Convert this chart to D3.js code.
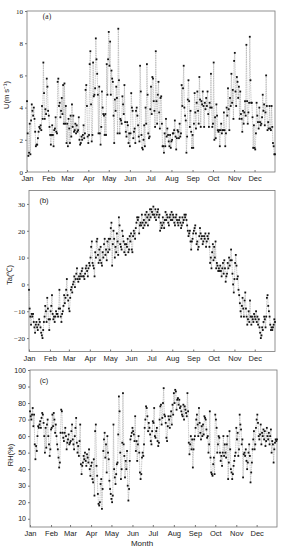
<!DOCTYPE html>
<html>
<head>
<meta charset="utf-8">
<script src="https://cdn.jsdelivr.net/npm/d3@7"></script>
<style>
  body { margin: 0; background: #fff; }
  svg text { fill: #222; }
</style>
</head>
<body>
<svg id="chart" width="287" height="550"></svg>
<script>
// month tick labels
const MONTHS = ['Jan', 'Feb', 'Mar', 'Apr', 'May', 'Jun', 'Jul', 'Aug', 'Sep', 'Oct', 'Nov', 'Dec'];

// (a) daily wind speed, m/s  (one row per month)
const WIND = [
  4.4,2.4,1.0,1.2,3.0,1.1,3.2,4.2,3.8,3.5,4.0,3.3,2.5,1.6,1.7,1.7,2.1,2.5,2.8,2.7,2.9,2.6,4.1,3.3,6.8,4.9,3.3,3.9,3.6,5.8,5.3,
  3.8,3.5,2.8,2.3,1.7,2.3,2.9,2.3,1.6,2.6,2.7,3.4,2.5,2.4,5.6,5.8,4.1,4.3,3.4,3.8,4.6,3.6,5.4,3.0,5.5,3.0,4.1,1.8,
  3.0,1.6,3.3,2.7,1.8,3.5,2.2,4.2,2.8,3.5,2.5,2.6,3.0,2.4,2.9,2.5,2.6,3.4,2.0,1.7,1.8,2.2,2.0,2.3,2.9,2.1,2.4,5.1,5.4,4.1,2.2,
  1.8,2.3,6.7,7.5,4.2,1.9,2.3,6.8,4.7,4.8,5.2,8.3,7.0,6.1,4.8,2.4,5.3,2.4,1.7,2.8,5.0,4.0,3.6,3.5,2.3,3.6,2.3,6.7,4.8,7.0,
  8.7,6.6,8.1,4.8,6.3,5.8,5.6,3.5,1.8,4.5,3.8,5.3,4.6,2.4,8.9,5.7,2.4,3.3,3.2,3.0,4.7,4.2,3.6,5.4,3.1,2.5,2.2,3.1,2.9,1.8,2.4,
  1.6,2.4,4.9,4.0,3.8,2.1,2.5,2.7,1.8,3.8,4.0,3.5,2.9,2.2,1.9,6.6,5.0,2.3,1.5,1.4,2.0,2.9,1.6,4.0,3.0,6.7,4.8,2.4,2.1,2.2,
  3.9,5.3,3.6,5.9,5.8,4.4,3.8,2.8,7.5,4.4,3.0,4.8,5.6,3.7,2.7,4.6,4.7,3.0,1.6,1.6,1.2,2.4,1.6,3.3,2.2,2.7,2.3,1.9,1.6,2.3,1.5,
  1.9,2.0,2.4,2.4,2.6,3.2,2.2,1.4,2.1,2.6,2.5,2.1,3.0,2.2,2.4,5.4,4.1,5.2,6.6,4.0,3.5,3.2,1.2,2.2,4.5,5.7,4.4,2.8,3.8,2.5,1.5,
  2.3,1.5,3.0,4.9,3.7,2.7,4.3,5.0,3.8,3.0,5.9,4.5,2.8,4.4,4.2,5.0,4.1,2.8,4.3,3.9,4.6,4.1,5.0,3.6,2.8,4.3,4.0,6.1,4.0,2.8,
  3.0,6.8,2.0,3.4,2.1,4.2,3.5,2.6,2.5,2.6,1.6,2.6,3.0,2.4,2.6,2.6,3.7,2.6,1.6,2.4,4.0,3.5,5.2,3.9,2.6,4.6,4.1,6.1,4.3,5.1,3.3,
  6.9,7.4,5.0,4.1,5.9,5.6,4.6,5.3,3.3,5.0,3.6,3.3,2.5,3.8,3.0,3.7,4.4,3.5,7.9,4.4,3.0,3.7,4.3,8.4,5.7,4.3,4.3,3.4,1.5,2.9,
  1.5,1.4,2.4,4.3,3.5,3.1,2.7,4.0,3.1,2.9,3.0,3.4,4.8,3.8,4.2,2.9,3.7,6.0,4.1,2.6,3.1,2.7,4.1,2.7,2.6,4.1,2.8,1.8,1.6,1.1,1.1
];

// (b) daily air temperature, deg C
const TEMP = [
  -2,-9,-12,-15,-11,-12,-11,-14,-16,-18,-15,-14,-16,-17,-15,-13,-14,-16,-18,-19,-20,-17,-14,-12,-8,-10,-14,-5,-9,-13,-17,
  -13,-10,-8,-4,-11,-13,-12,-14,-12,-10,-11,-11,-12,-9,-2,-9,-12,-14,-11,-10,-8,-4,-7,-5,-2,2,-4,-6,
  -9,-10,-5,-2,-1,-3,0,1,3,-1,2,4,6,2,1,3,2,4,3,5,6,3,3,2,4,6,7,5,3,6,8,
  7,10,14,16,8,7,6,3,12,10,16,17,11,8,13,9,14,8,7,12,10,15,17,11,13,9,16,12,17,13,
  17,21,23,7,15,20,17,10,14,12,19,16,11,25,22,15,14,13,20,18,16,12,15,11,15,14,17,12,13,18,16,
  19,13,12,18,20,19,17,21,23,25,24,25,19,22,23,22,26,23,21,24,22,26,23,27,25,22,26,24,28,25,
  28,27,26,29,26,25,28,24,26,27,28,25,26,20,23,21,22,25,23,21,24,27,24,26,25,23,22,25,26,24,27,
  24,26,25,23,22,25,26,24,23,22,24,25,23,21,22,25,23,24,26,25,26,24,22,20,18,19,20,16,13,16,17,
  19,20,21,22,19,15,16,13,14,18,21,19,17,18,15,16,18,17,19,14,16,18,17,19,14,8,10,6,12,15,
  9,14,10,16,6,8,7,5,6,5,7,5,3,6,8,4,9,6,1,3,4,8,6,10,7,9,13,9,4,0,-3,
  2,8,11,7,2,3,-2,-4,-7,-10,-12,-8,-5,-9,-12,-6,-3,-9,-12,-15,-13,-10,-14,-6,-12,-15,-12,-13,-14,-11,
  -12,-13,-10,-14,-12,-15,-13,-16,-18,-20,-19,-16,-17,-14,-12,-13,-16,-12,-5,-4,-8,-10,-12,-15,-17,-16,-17,-16,-15,-13,-14
];

// (c) daily relative humidity, %
const HUMID = [
  75,72,70,73,77,66,73,55,46,54,51,60,66,65,67,69,65,71,74,73,68,60,50,65,53,67,70,60,55,48,52,
  64,65,73,66,74,70,62,67,60,55,52,47,41,44,62,76,75,62,59,57,62,65,60,52,56,58,61,55,
  56,57,63,67,58,55,52,60,65,71,56,50,54,48,57,67,43,37,42,44,48,46,50,45,42,49,47,44,52,40,36,
  42,44,34,32,46,24,63,67,42,36,25,19,18,20,31,34,16,28,51,58,62,47,55,38,60,50,46,33,28,25,
  22,20,24,67,40,35,31,37,43,44,61,84,75,50,34,40,56,86,55,48,35,45,40,51,30,21,28,45,58,60,62,
  65,63,61,57,72,51,57,45,55,60,50,38,34,37,47,50,48,55,65,70,78,77,72,63,68,65,61,57,55,63,
  69,68,77,60,59,63,65,57,54,56,70,78,79,67,71,80,89,73,72,68,59,57,66,72,70,65,72,75,67,79,73,
  86,80,88,87,76,82,83,79,82,77,78,75,73,72,79,70,78,76,74,72,86,75,56,49,55,60,52,58,41,52,58,
  60,65,70,73,67,60,77,68,62,58,66,60,67,61,72,71,70,64,59,60,50,55,75,47,38,37,36,43,47,37,
  73,70,65,50,55,60,59,50,45,48,42,50,60,48,55,50,47,55,60,34,44,63,52,40,38,34,37,42,45,48,50,
  65,58,62,48,52,73,67,64,55,58,35,49,50,48,52,45,40,44,50,55,48,32,38,44,52,58,63,52,55,65,
  70,73,68,60,58,61,67,55,62,60,64,58,63,54,57,65,60,58,62,55,60,64,50,57,55,44,52,56,58,57,58
];

const Y_TICKS_A = [0, 2, 4, 6, 8, 10];
const Y_TICKS_B = [-20, -10, 0, 10, 20, 30];
const Y_TICKS_C = [10, 20, 30, 40, 50, 60, 70, 80, 90, 100];

const start = new Date(2001, 0, 1);
const end = new Date(2001, 11, 31);
const monthStarts = d3.range(12).map(m => new Date(2001, m, 1));

// one entry per panel: where it sits and how its axis reads
const panels = [
  { values: WIND, tag: '(a)', title: 'U(m s\u207B\u00B9)', domain: [0, 10], ticks: Y_TICKS_A,
    left: 27, right: 275, top: 11, bottom: 172, tickFont: 'Liberation Serif', tagFont: 'Liberation Serif',
    tagX: 47, tagY: 19, titleX: 9, titleY: 95 },
  { values: TEMP, tag: '(b)', title: 'Ta(\u2103)', domain: [-25, 35], ticks: Y_TICKS_B,
    left: 29, right: 275, top: 190.5, bottom: 351.5, tickFont: 'Liberation Serif', tagFont: 'Liberation Sans',
    tagX: 44, tagY: 203, titleX: 12, titleY: 275 },
  { values: HUMID, tag: '(c)', title: 'RH(%)', domain: [5, 100], ticks: Y_TICKS_C,
    left: 30, right: 277, top: 370, bottom: 527, tickFont: 'Liberation Sans', tagFont: 'Liberation Sans',
    tagX: 44, tagY: 383, titleX: 13, titleY: 455 }
];

const svg = d3.select('#chart');

panels.forEach(p => {
  const x = d3.scaleTime().domain([start, end]).range([p.left, p.right]);
  const y = d3.scaleLinear().domain(p.domain).range([p.bottom, p.top]);
  const data = p.values.map((v, i) => ({ date: d3.timeDay.offset(start, i), v }));

  const g = svg.append('g');

  // frame
  g.append('rect')
    .attr('x', p.left).attr('y', p.top)
    .attr('width', p.right - p.left).attr('height', p.bottom - p.top)
    .attr('fill', 'none').attr('stroke', '#777').attr('stroke-width', 0.8);

  // y axis, small outward ticks
  const yAxis = g.append('g')
    .attr('transform', `translate(${p.left},0)`)
    .call(d3.axisLeft(y).tickValues(p.ticks).tickSize(2).tickPadding(2));
  yAxis.select('.domain').remove();
  yAxis.selectAll('line').attr('stroke', '#777');
  yAxis.selectAll('text')
    .style('font-family', p.tickFont).style('font-size', '7px').attr('fill', '#333');

  // x axis, inward ticks at month starts
  const xAxis = g.append('g')
    .attr('transform', `translate(0,${p.bottom})`)
    .call(d3.axisBottom(x).tickValues(monthStarts).tickSize(-2).tickPadding(4)
      .tickFormat((d, i) => MONTHS[i]));
  xAxis.select('.domain').remove();
  xAxis.selectAll('line').attr('stroke', '#777');
  xAxis.selectAll('text')
    .style('font-family', 'Liberation Sans').style('font-size', '7.5px').attr('fill', '#333');

  // connecting line, light and broken like the print
  g.append('path')
    .datum(data)
    .attr('fill', 'none')
    .attr('stroke', '#aaa')
    .attr('stroke-width', 0.6)
    .attr('stroke-dasharray', '1.6,0.7')
    .attr('d', d3.line().x(d => x(d.date)).y(d => y(d.v)));

  // daily points
  g.selectAll('.dot')
    .data(data)
    .enter()
    .append('rect')
    .classed('dot', true)
    .attr('x', d => x(d.date) - 0.9)
    .attr('y', d => y(d.v) - 0.9)
    .attr('width', 1.8)
    .attr('height', 1.8)
    .attr('fill', '#111');

  g.append('text')
    .attr('x', p.tagX).attr('y', p.tagY)
    .attr('text-anchor', 'middle')
    .style('font-family', p.tagFont).style('font-size', '7.5px')
    .text(p.tag);

  g.append('text')
    .attr('transform', `translate(${p.titleX},${p.titleY}) rotate(-90)`)
    .attr('text-anchor', 'middle')
    .style('font-family', 'Liberation Sans').style('font-size', '7.5px')
    .text(p.title);
});

svg.append('text')
  .attr('x', 142).attr('y', 546)
  .attr('text-anchor', 'middle')
  .style('font-family', 'Liberation Sans').style('font-size', '8px')
  .text('Month');
</script>
</body>
</html>
